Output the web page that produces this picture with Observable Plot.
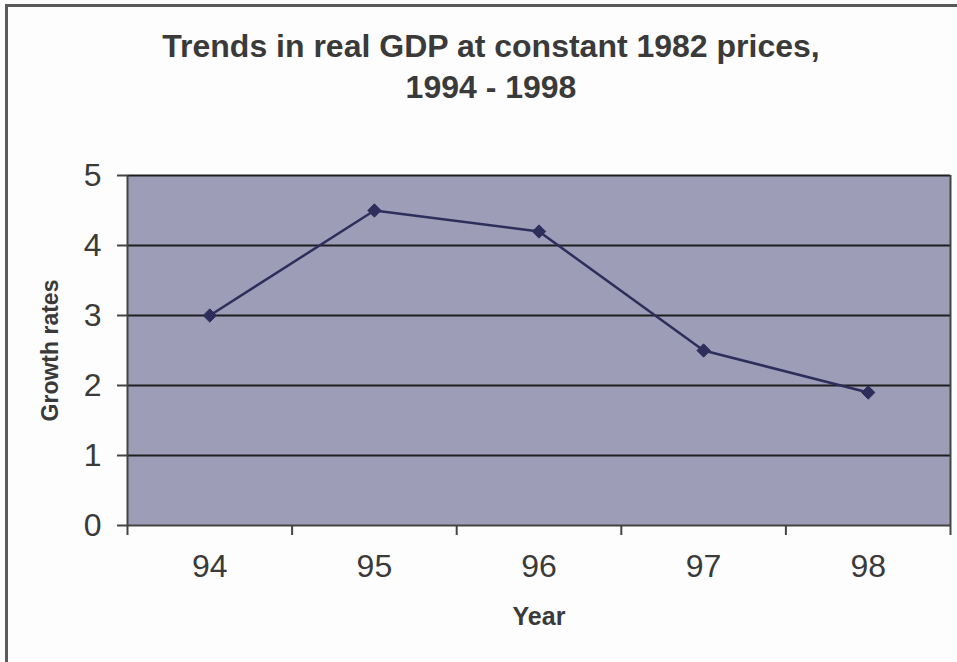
<!DOCTYPE html>
<html>
<head>
<meta charset="utf-8">
<script src="https://cdn.jsdelivr.net/npm/d3@7"></script>
<script src="https://cdn.jsdelivr.net/npm/@observablehq/plot@0.6"></script>
<style>
  html, body { margin: 0; padding: 0; background: #fdfdfd; }
  #wrap { position: relative; width: 957px; height: 662px; overflow: hidden; font-family: "Liberation Sans", Arial, sans-serif; }
  #border { position: absolute; left: 5px; top: 4px; width: 960px; height: 700px; border-top: 3px solid #5a5a5a; border-left: 3px solid #5a5a5a; box-sizing: border-box; }
  #title { position: absolute; left: 0; top: 26px; width: 982px; text-align: center; font-weight: bold; font-size: 32px; line-height: 41px; color: #3a3a3a; }
  #chart { position: absolute; left: 0; top: 120px; }
</style>
</head>
<body>
<div id="wrap">
  <div id="border"></div>
  <div id="title">Trends in real GDP at constant 1982 prices,<br>1994 - 1998</div>
  <div id="chart"></div>
</div>
<script>
const years = [94, 95, 96, 97, 98];
const growth = [3.0, 4.5, 4.2, 2.5, 1.9];
const yTicks = [0, 1, 2, 3, 4, 5];
const gridLines = [1, 2, 3, 4, 5];

const data = years.map((y, i) => ({year: y, value: growth[i]}));
const xDomain = [years[0] - 0.5, years[years.length - 1] + 0.5];
const boundaries = years.map(y => y - 0.5).concat([years[years.length - 1] + 0.5]);

const textColor = "#3a3a3a";
const plot = Plot.plot({
  width: 957,
  height: 542,
  marginLeft: 127,
  marginRight: 7,
  marginTop: 55,
  marginBottom: 137,
  style: {background: "transparent", fontFamily: "'Liberation Sans', Arial, sans-serif", color: textColor},
  x: {type: "linear", domain: xDomain},
  y: {domain: [0, 5]},
  marks: [
    Plot.frame({fill: "#9d9db8", stroke: "none"}),
    Plot.ruleY(gridLines, {stroke: "#1e1e1e", strokeWidth: 2}),
    Plot.ruleX([xDomain[0]], {stroke: "#444", strokeWidth: 2}),
    Plot.ruleX([xDomain[1]], {stroke: "#444", strokeWidth: 2}),
    Plot.ruleY([0], {stroke: "#444", strokeWidth: 2}),
    Plot.axisY({ticks: yTicks, tickSize: 10, tickPadding: 16, fontSize: 32, label: null, stroke: "#444", strokeWidth: 2, tickFormat: d => String(d)}),
    Plot.axisX({ticks: boundaries, tickSize: 10, tickFormat: () => "", label: null, stroke: "#444", strokeWidth: 2}),
    Plot.axisX({ticks: years, tickSize: 0, tickPadding: 29, fontSize: 32, label: null, tickFormat: d => String(d)}),
    Plot.line(data, {x: "year", y: "value", stroke: "#2e2e5c", strokeWidth: 2.5}),
    Plot.dot(data, {x: "year", y: "value", symbol: "diamond2", r: 6, fill: "#2e2e5c", stroke: "#2e2e5c", strokeWidth: 1}),
    Plot.text(["Growth rates"], {frameAnchor: "left", textAnchor: "middle", dx: -77, rotate: -90, fontSize: 23, fontWeight: "bold", fill: textColor}),
    Plot.text(["Year"], {frameAnchor: "bottom", dy: 99, fontSize: 25, fontWeight: "bold", fill: textColor})
  ]
});
document.getElementById("chart").appendChild(plot);
</script>
</body>
</html>
